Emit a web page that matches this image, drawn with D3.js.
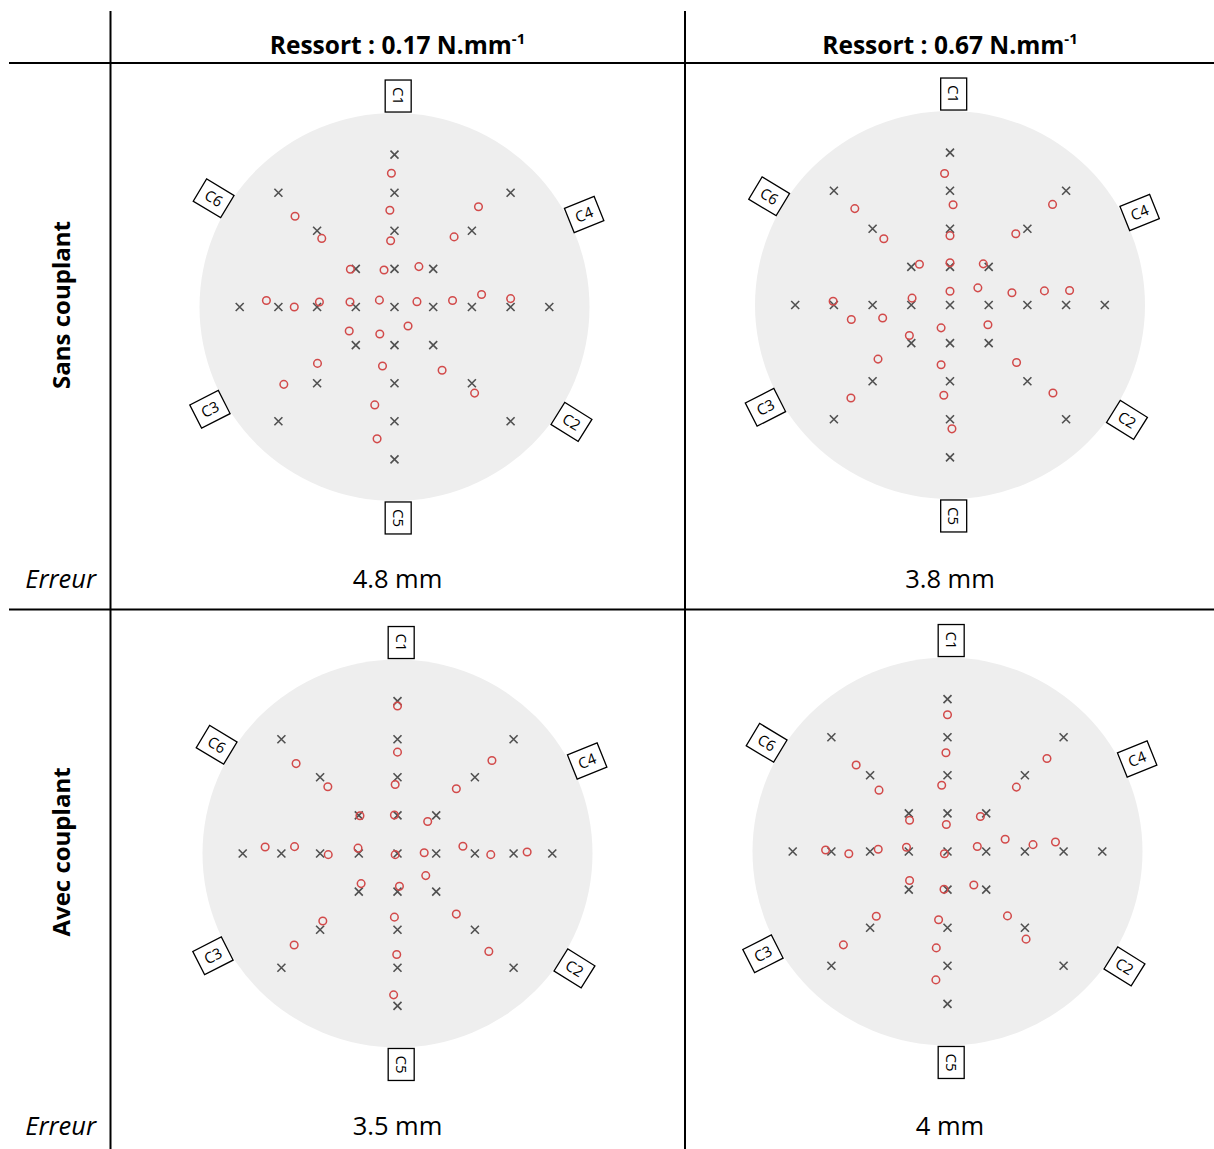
<!DOCTYPE html>
<html>
<head>
<meta charset="utf-8">
<script src="https://cdn.jsdelivr.net/npm/d3@7"></script>
<style>
  html, body { margin: 0; padding: 0; background: #fff; }
  svg { display: block; }
</style>
</head>
<body>
<svg id="chart" width="1214" height="1149"></svg>
<script>
// ---------------- DATA ----------------
const columnTitles = ["Ressort : 0.17 N.mm", "Ressort : 0.67 N.mm"];
const columnTitleSup = "-1";
const rowTitles = ["Sans couplant", "Avec couplant"];
const errorLabel = "Erreur";
const errorValues = [["4.8 mm", "3.8 mm"], ["3.5 mm", "4 mm"]];

// Sensor labels around the plate
const sensorNames = ["C1", "C4", "C2", "C5", "C3", "C6"];
const sensorAngles = [89, 26, -33, -89, -151, 149];   // degrees, polar position
const sensorTilt = [90, -22, 32, 90, -27, 31];        // degrees, box rotation

// Target impact positions (mm), x right, y up
const targets = [
  [0, 0],
  [0, 10], [0, 20], [0, 30], [0, 40],
  [0, -10], [0, -20], [0, -30], [0, -40],
  [10, 0], [20, 0], [30, 0], [40, 0],
  [-10, 0], [-20, 0], [-30, 0], [-40, 0],
  [10, 10], [20, 20], [30, 30],
  [10, -10], [20, -20], [30, -30],
  [-10, -10], [-20, -20], [-30, -30],
  [-10, 10], [-20, 20], [-30, 30]
];

// Localised positions (mm)
const locSans017 = [
  [-0.8, 35.1], [-1.2, 25.4], [-1.0, 17.4], [-2.7, 9.7],
  [-3.9, 1.8],
  [21.7, 26.3], [15.4, 18.4], [6.3, 10.6],
  [5.8, 1.4], [15.0, 1.7], [22.5, 3.3], [30.0, 2.2],
  [3.5, -5.0], [12.3, -16.6], [20.7, -22.6],
  [-3.8, -7.1], [-3.1, -15.5], [-5.1, -25.7], [-4.5, -34.6],
  [-11.7, -6.3], [-19.9, -14.8], [-28.6, -20.3],
  [-11.5, 1.3], [-19.4, 1.3], [-25.9, 0.0], [-33.1, 1.7],
  [-11.4, 9.9], [-18.8, 18.0], [-25.7, 23.8]
];
const locSans067 = [
  [-1.4, 34.5], [0.8, 26.3], [0.0, 18.2], [0.0, 11.1],
  [0.0, 3.6],
  [26.5, 26.4], [17.0, 18.7], [8.6, 10.8],
  [7.2, 4.5], [16.0, 3.2], [24.4, 3.7], [30.9, 3.8],
  [9.8, -5.2], [17.2, -15.1], [26.6, -23.1],
  [-2.3, -6.0], [-2.3, -15.7], [-1.6, -23.7], [0.5, -32.5],
  [-10.5, -8.0], [-18.6, -14.2], [-25.6, -24.4],
  [-9.8, 1.8], [-17.4, -3.4], [-25.5, -3.8], [-30.2, 1.0],
  [-7.9, 10.7], [-17.1, 17.4], [-24.6, 25.3]
];
const locAvec017 = [
  [0.0, 38.7], [0.0, 26.6], [-0.6, 18.1], [-0.8, 10.1],
  [-0.6, -0.3],
  [24.4, 24.4], [15.2, 17.0], [7.8, 8.4],
  [6.9, 0.2], [16.9, 1.9], [24.1, -0.3], [33.5, 0.4],
  [7.3, -5.8], [15.2, -15.9], [23.6, -25.7],
  [0.5, -8.6], [-0.8, -16.7], [-0.2, -26.5], [-1.0, -37.1],
  [-9.4, -7.9], [-19.3, -17.7], [-26.7, -24.0],
  [-10.2, 1.4], [-17.9, -0.3], [-26.6, 1.8], [-34.2, 1.7],
  [-9.7, 9.9], [-18.0, 17.5], [-26.2, 23.6]
];
const locAvec067 = [
  [0.0, 35.9], [-0.4, 25.9], [-1.5, 17.4], [-0.3, 7.1],
  [-0.8, -0.6],
  [25.7, 24.4], [17.8, 16.9], [8.5, 9.2],
  [7.7, 1.3], [14.9, 3.2], [22.1, 1.8], [27.9, 2.5],
  [6.8, -8.8], [15.5, -16.9], [20.3, -23.0],
  [-0.9, -9.9], [-2.3, -17.9], [-2.9, -25.3], [-3.0, -33.7],
  [-9.8, -7.6], [-18.4, -17.0], [-26.9, -24.5],
  [-10.6, 1.1], [-17.9, 0.6], [-25.5, -0.6], [-31.5, 0.4],
  [-9.8, 8.2], [-17.7, 16.1], [-23.6, 22.7]
];
const plateRadius = 50; // mm

// ---------------- LAYOUT ----------------
const svg = d3.select("#chart");
const FONT = "'Open Sans', Lato, 'Liberation Sans', sans-serif";

const panels = [
  { row: 0, col: 0, cx: 394.5, cy: 307, data: locSans017 },
  { row: 0, col: 1, cx: 950, cy: 305, data: locSans067 },
  { row: 1, col: 0, cx: 397.5, cy: 853.5, data: locAvec017 },
  { row: 1, col: 1, cx: 947.5, cy: 851.5, data: locAvec067 }
];

const x = d3.scaleLinear().domain([-plateRadius, plateRadius]).range([-193.5, 193.5]);
const y = d3.scaleLinear().domain([-plateRadius, plateRadius]).range([190.5, -190.5]);

// table lines
const lines = svg.append("g").attr("stroke", "#000").attr("stroke-width", 2);
lines.append("line").attr("x1", 110.5).attr("x2", 110.5).attr("y1", 11).attr("y2", 1149);
lines.append("line").attr("x1", 685).attr("x2", 685).attr("y1", 11).attr("y2", 1149);
lines.append("line").attr("x1", 9).attr("x2", 1214).attr("y1", 63).attr("y2", 63);
lines.append("line").attr("x1", 9).attr("x2", 1214).attr("y1", 609.5).attr("y2", 609.5);

const colCenters = [397.5, 950];
const rowCenters = [305, 852];
const errY = [579, 1126];

// column titles
columnTitles.forEach((t, i) => {
  const txt = svg.append("text")
    .attr("x", colCenters[i]).attr("y", 54)
    .attr("text-anchor", "middle")
    .attr("font-family", FONT).attr("font-weight", "bold")
    .attr("font-size", 24.5).attr("fill", "#000");
  txt.append("tspan").text(t);
  txt.append("tspan").text(columnTitleSup)
    .attr("font-size", 15).attr("dy", -10);
});

// row titles
rowTitles.forEach((t, i) => {
  svg.append("text")
    .attr("transform", `translate(70,${rowCenters[i]}) rotate(-90)`)
    .attr("text-anchor", "middle")
    .attr("font-family", FONT).attr("font-weight", "bold")
    .attr("font-size", 24).attr("fill", "#000")
    .text(t);
  svg.append("text")
    .attr("x", 96).attr("y", errY[i])
    .attr("dy", "0.35em")
    .attr("text-anchor", "end")
    .attr("font-family", FONT).attr("font-style", "italic")
    .attr("font-size", 25.5).attr("fill", "#000")
    .text(errorLabel);
  errorValues[i].forEach((v, j) => {
    svg.append("text")
      .attr("x", colCenters[j]).attr("y", errY[i])
      .attr("dy", "0.35em")
      .attr("text-anchor", "middle")
      .attr("font-family", FONT)
      .attr("font-size", 25.5).attr("fill", "#000")
      .text(v);
  });
});

// panels
panels.forEach(p => {
  const g = svg.append("g").attr("transform", `translate(${p.cx},${p.cy})`);
  g.append("ellipse")
    .attr("cx", x(0)).attr("cy", y(0))
    .attr("rx", x(plateRadius) - x(0) + 1.5)
    .attr("ry", y(-plateRadius) - y(0) + 3.5)
    .attr("fill", "#eeeeee");

  // sensors
  const sensors = g.selectAll("g.sensor")
    .data(sensorNames.map((n, i) => ({ name: n, a: sensorAngles[i], t: sensorTilt[i] })))
    .join("g")
    .attr("class", "sensor")
    .attr("transform", d => {
      const r = 211, rad = d.a * Math.PI / 180;
      return `translate(${r * Math.cos(rad)},${-r * Math.sin(rad)}) rotate(${d.t})`;
    });
  sensors.append("rect")
    .attr("x", -16).attr("y", -13).attr("width", 32).attr("height", 26)
    .attr("fill", "#fff").attr("stroke", "#000").attr("stroke-width", 1.3);
  sensors.append("text")
    .attr("text-anchor", "middle").attr("dy", "0.36em")
    .attr("font-family", FONT).attr("font-size", 15).attr("fill", "#000")
    .text(d => d.name);

  // targets (x marks)
  const s = 4;
  g.selectAll("path.target")
    .data(targets)
    .join("path")
    .attr("class", "target")
    .attr("d", d => {
      const px = x(d[0]), py = y(d[1]);
      return `M${px - s},${py - s}L${px + s},${py + s}M${px - s},${py + s}L${px + s},${py - s}`;
    })
    .attr("stroke", "#505050").attr("stroke-width", 1.6).attr("fill", "none");

  // localised points
  g.selectAll("circle.loc")
    .data(p.data)
    .join("circle")
    .attr("class", "loc")
    .attr("cx", d => x(d[0])).attr("cy", d => y(d[1]))
    .attr("r", 3.8)
    .attr("fill", "none").attr("stroke", "#d24a4a").attr("stroke-width", 1.5);
});
</script>
</body>
</html>
